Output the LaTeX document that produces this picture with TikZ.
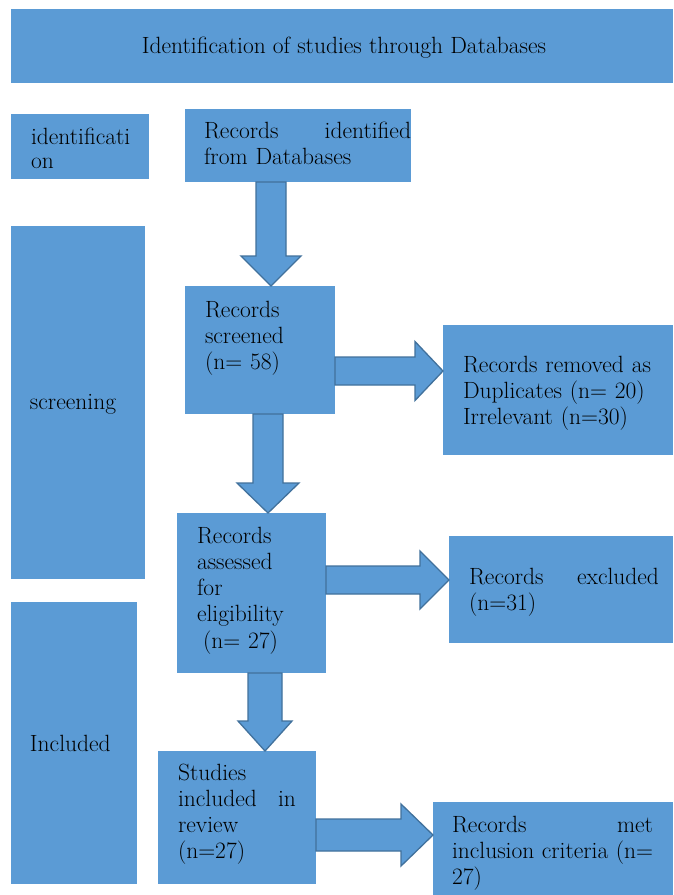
\documentclass[tikz,border=0pt]{standalone}
\usetikzlibrary{calc}
\definecolor{boxblue}{HTML}{5B9BD5}
\definecolor{arrowedge}{HTML}{41719C}
\newcommand{\varrowblk}[5]{%
  \filldraw[blockarrow] let \p1=(#1.south), \p2=(#2.north) in
  ({(#3-#4)*1pt},\y1) -- ({(#3+#4)*1pt},\y1) -- ({(#3+#4)*1pt},{\y2+30pt})
  -- ({(#3+#5)*1pt},{\y2+30pt}) -- ({#3*1pt},\y2) -- ({(#3-#5)*1pt},{\y2+30pt})
  -- ({(#3-#4)*1pt},{\y2+30pt}) -- cycle;}
\newcommand{\harrowblk}[6]{%
  \filldraw[blockarrow] let \p1=(#1.east), \p2=(#2.west) in
  (\x1,{-(#3-#4)*1pt}) -- ({\x2-#6pt},{-(#3-#4)*1pt}) -- ({\x2-#6pt},{-(#3-#5)*1pt})
  -- (\x2,{-#3*1pt}) -- ({\x2-#6pt},{-(#3+#5)*1pt}) -- ({\x2-#6pt},{-(#3+#4)*1pt})
  -- (\x1,{-(#3+#4)*1pt}) -- cycle;}
\begin{document}
\begin{tikzpicture}[x=1pt,y=-1pt,
  box/.style={fill=boxblue,draw=none,inner sep=0pt,outer sep=0pt,anchor=north west},
  blockarrow/.style={fill=boxblue,draw=arrowedge,line width=1.3pt,line join=miter},
  txt/.style={inner sep=0pt,outer sep=0pt,anchor=base west,align=left,
    font=\fontsize{23.5}{26.3}\selectfont}]
\useasboundingbox[fill=white] (0,0) rectangle (673,895);
% boxes
\node[box,minimum width=662pt,minimum height=74pt] (title) at (11,9) {};
\node[box,minimum width=138pt,minimum height=65pt] (ident) at (11,114) {};
\node[box,minimum width=226pt,minimum height=73pt] (recid) at (185,109) {};
\node[box,minimum width=134pt,minimum height=353pt] (screen) at (11,226) {};
\node[box,minimum width=150pt,minimum height=128pt] (screened) at (185,286) {};
\node[box,minimum width=230pt,minimum height=130pt] (removed) at (443,325) {};
\node[box,minimum width=149pt,minimum height=160pt] (assessed) at (177,513) {};
\node[box,minimum width=224pt,minimum height=107pt] (excluded) at (449,536) {};
\node[box,minimum width=126pt,minimum height=282pt] (incl) at (11,602) {};
\node[box,minimum width=158pt,minimum height=133pt] (studies) at (158,751) {};
\node[box,minimum width=240pt,minimum height=93pt] (met) at (433,802) {};
% arrows
\varrowblk{recid}{screened}{271}{15}{30}
\harrowblk{screened}{removed}{371}{14}{29.5}{28}
\varrowblk{screened}{assessed}{268}{15}{31}
\harrowblk{assessed}{excluded}{580}{14}{29}{29}
\varrowblk{assessed}{studies}{265}{17}{27}
\harrowblk{studies}{met}{835}{16}{31}{32}
% texts
\node[txt,anchor=base] (ttitle) at (344,53) {Identification of studies through Databases};
\node[txt,text width=115pt,font=\fontsize{23.5}{24}\selectfont] (tident) at (31,144) {identificati\\on};
\node[txt,text width=207pt] (trecid) at (204,138) {Records\hfill identified\\from Databases};
\node[txt] (tscreen) at (30,409) {screening};
\node[txt,text width=125pt] (tscreened) at (205,317) {Records\\screened\\(n= 58)};
\node[txt,text width=205pt] (tremoved) at (463,372) {Records removed as\\Duplicates (n= 20)\\Irrelevant (n=30)};
\node[txt,text width=125pt] (tassessed) at (197,543) {Records\\assessed\\for\\eligibility\\\hspace*{6pt}(n= 27)};
\node[txt,text width=190pt] (texcluded) at (469,584) {Records\hfill excluded\\(n=31)};
\node[txt] (tincl) at (30,751) {Included};
\node[txt,text width=118pt] (tstudies) at (178,780) {Studies\\included\hfill in\\review\\(n=27)};
\node[txt,text width=201pt] (tmet) at (452,832) {Records\hfill met\\inclusion\hfill criteria\hfill (n=\\27)};
\end{tikzpicture}
\end{document}
